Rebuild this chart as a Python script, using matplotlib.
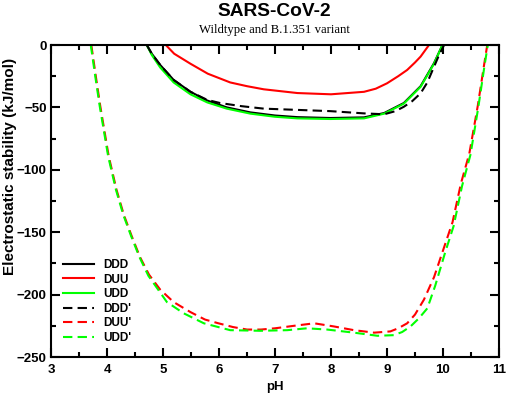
import numpy as np
import matplotlib
matplotlib.use('Agg')
from matplotlib import pyplot as plt

# values
ph_ddd = [4.71, 4.80, 4.95, 5.19, 5.49, 5.79, 6.14, 6.56, 7.00, 7.40, 7.99, 8.59, 8.95, 9.30, 9.60, 9.84, 9.99]
ddd = [0, -7, -16, -28, -37.5, -44.5, -50, -54, -56.5, -57.8, -58.5, -58, -54.5, -46.5, -33, -14.5, 0]

ph_duu = [5.05, 5.20, 5.49, 5.80, 6.20, 6.50, 6.80, 7.40, 8.00, 8.59, 8.80, 9.00, 9.20, 9.36, 9.50, 9.60, 9.75]
duu = [0, -7, -15, -23, -30, -33, -35.5, -38.5, -39.5, -37.5, -35, -30.7, -25, -20, -14, -9.3, 0]

ph_udd = [4.71, 4.80, 4.95, 5.19, 5.49, 5.79, 6.14, 6.56, 7.00, 7.40, 7.99, 8.59, 8.95, 9.30, 9.60, 9.84, 9.99]
udd = [0, -8, -18, -30, -39.5, -46, -51, -55, -57.5, -58.8, -59.3, -58.8, -55, -47, -33.5, -15, 0]

ph_ddd2 = [4.71, 4.80, 4.95, 5.19, 5.49, 5.79, 6.02, 6.40, 6.80, 7.40, 7.99, 8.59, 8.95, 9.15, 9.30, 9.45, 9.60, 9.72, 9.84, 9.93, 10.02]
ddd2 = [0, -7, -16, -28, -37.5, -44, -46.5, -49, -51, -52, -53, -54.8, -55.5, -53, -49.5, -45, -38.7, -30, -17.4, -8, 0]

ph_duu2 = [3.72, 3.80, 3.88, 4.03, 4.17, 4.30, 4.44, 4.59, 4.75, 4.95, 5.19, 5.49, 5.75, 5.99, 6.25, 6.50, 6.75, 7.00,
           7.34, 7.70, 8.05, 8.41, 8.77, 9.06, 9.20, 9.36, 9.50, 9.66, 9.84, 10.02, 10.17, 10.32, 10.47, 10.62, 10.73, 10.79]
duu2 = [0, -25, -49, -89, -116, -136, -153, -170, -184, -196, -206, -214, -220, -223, -226, -228, -228, -227,
        -225, -223, -225.5, -228.5, -230.5, -229.5, -227, -223, -216, -204, -186, -162, -142, -111, -87, -49, -17, 0]

ph_udd2 = [3.71, 3.79, 3.87, 4.02, 4.16, 4.29, 4.43, 4.58, 4.74, 5.07, 5.37, 5.73, 6.20, 6.74, 7.22, 7.57, 7.93,
           8.41, 8.83, 9.12, 9.27, 9.42, 9.57, 9.72, 9.86, 10.04, 10.19, 10.34, 10.49, 10.63, 10.74, 10.80]
udd2 = [0, -25, -49, -89, -116, -136, -153, -170, -185, -206, -215, -223, -228.5, -229, -228.5, -227, -228,
        -230.5, -233, -232.5, -230, -225.5, -219, -211, -193, -166, -145, -113, -88, -50, -17, 0]

labels = ['DDD', 'DUU', 'UDD', "DDD'", "DUU'", "UDD'"]

plt.rcParams['font.family'] = ['Liberation Sans', 'DejaVu Sans']
plt.rcParams['font.weight'] = 'bold'

fig = plt.figure(figsize=(5.1, 3.94), dpi=100)
ax = fig.add_axes([51/510, 1-357/394, 448/510, 312/394])

lw = 1.5
dash = (4.5, 2.5)
ax.plot(ph_ddd, ddd, color='black', lw=lw, label=labels[0])
ax.plot(ph_duu, duu, color='#ff0000', lw=lw, label=labels[1])
ax.plot(ph_udd, udd, color='#00ff00', lw=lw, label=labels[2])
ax.plot(ph_ddd2, ddd2, color='black', lw=lw, dashes=dash, label=labels[3])
ax.plot(ph_duu2, duu2, color='#ff0000', lw=lw, dashes=dash, label=labels[4])
ax.plot(ph_udd2, udd2, color='#00ff00', lw=lw, dashes=dash, label=labels[5])

ax.set_xlim(3, 11)
ax.set_ylim(-250, 0)
ax.set_xticks(np.arange(3, 11.1, 1))
ax.set_xticks(np.arange(3, 11.1, 0.5), minor=True)
ax.set_yticks(np.arange(-250, 1, 50))
ax.set_yticks(np.arange(-250, 1, 25), minor=True)
ax.tick_params(which='both', direction='in', top=True, right=True, width=1.5, labelsize=9.5)
ax.tick_params(which='major', length=6.5)
ax.tick_params(which='minor', length=3.5)
ax.tick_params(axis='x', pad=5)
ax.tick_params(axis='y', pad=3)
for s in ax.spines.values():
    s.set_linewidth(1.5)

fig.text(274.5/510, 1-387/394, 'pH', fontsize=9.5, fontweight='bold', ha='center', va='center')
fig.text(10/510, 1-166/394, 'Electrostatic stability (kJ/mol)', fontsize=11, fontweight='bold',
         rotation=90, ha='center', va='center')

fig.text(274.5/510, 1-12/394, 'SARS-CoV-2', fontsize=13.8, fontweight='bold', ha='center', va='center')
fig.text(274.5/510, 1-30/394, 'Wildtype and B.1.351 variant', fontsize=9.2, fontweight='normal',
         family=['Liberation Serif'], ha='center', va='center')

leg = ax.legend(loc='upper left', bbox_to_anchor=(63/510, 1-259/394), bbox_transform=fig.transFigure,
                frameon=False, fontsize=8.5, borderpad=0, borderaxespad=0, handlelength=2.6,
                handletextpad=0.85, labelspacing=0.22)

fig.savefig('out.png', dpi=100)
